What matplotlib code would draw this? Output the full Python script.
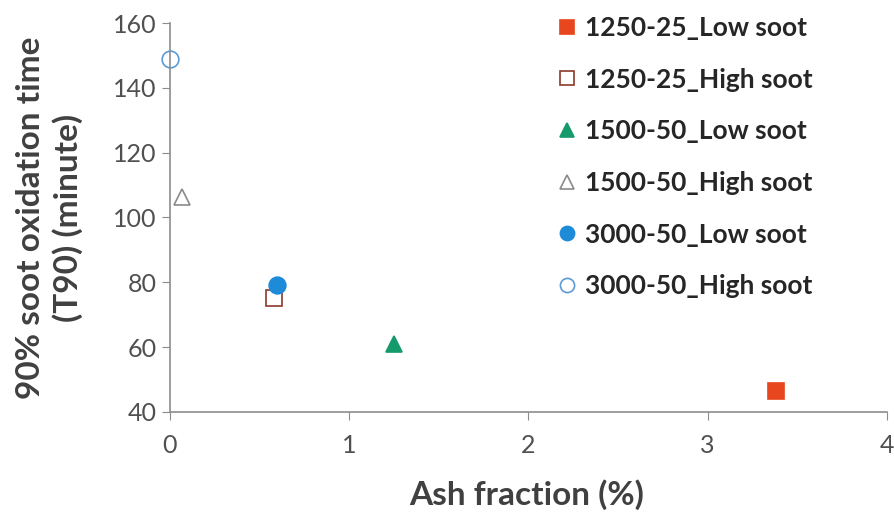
import matplotlib
matplotlib.use("Agg")
import matplotlib.pyplot as plt

# data
labels = ["1250-25_Low soot", "1250-25_High soot", "1500-50_Low soot",
          "1500-50_High soot", "3000-50_Low soot", "3000-50_High soot"]
ash = [3.38, 0.58, 1.25, 0.07, 0.60, 0.0]
t90 = [46.3, 75.2, 60.8, 106.2, 79.2, 148.9]

markers = ["s", "s", "^", "^", "o", "o"]
faces = ["#E8461E", "white", "#159A6C", "white", "#1D8BD8", "white"]
edges = ["#E8461E", "#8B3A2A", "#159A6C", "#8A8A8A", "#1D8BD8", "#5B9BD5"]

plt.rcParams['font.family'] = ['Lato', 'DejaVu Sans']

fig = plt.figure(figsize=(8.94, 5.16), dpi=100)
ax = fig.add_axes([0.19, 0.202, 0.802, 0.753])

for i in range(len(labels)):
    ax.plot(ash[i], t90[i], linestyle="none", marker=markers[i], markersize=12,
            markerfacecolor=faces[i], markeredgecolor=edges[i], markeredgewidth=1.2,
            label=labels[i], clip_on=False)

ax.set_xlim(0, 4)
ax.set_ylim(40, 160)
ax.set_xticks([0, 1, 2, 3, 4])
ax.set_yticks(range(40, 161, 20))

for s in ["top", "right"]:
    ax.spines[s].set_visible(False)
for s in ["left", "bottom"]:
    ax.spines[s].set_color("#8c8c8c")
    ax.spines[s].set_linewidth(1.2)
ax.tick_params(colors="#8c8c8c", labelcolor="#505050", labelsize=18, length=6)
ax.tick_params(axis="x", pad=10)

ax.set_xlabel("Ash fraction (%)", fontsize=24, fontweight="bold", color="#404040",
              va="center", ha="center")
ax.set_ylabel("90% soot oxidation time\n(T90) (minute)", fontsize=24, fontweight="bold",
              color="#404040", va="center", ha="center", linespacing=1.3)
ax.xaxis.set_label_coords(0.498, -0.213)
ax.yaxis.set_label_coords(-0.168, 0.5)

leg = ax.legend(loc="upper right", bbox_to_anchor=(0.93, 1.08), frameon=False,
                prop={"size": 19, "weight": "bold"}, labelspacing=1.05,
                handletextpad=0.25, handlelength=0.9, markerscale=0.85)
for t in leg.get_texts():
    t.set_color("#262626")

fig.savefig("out.png", dpi=100)
